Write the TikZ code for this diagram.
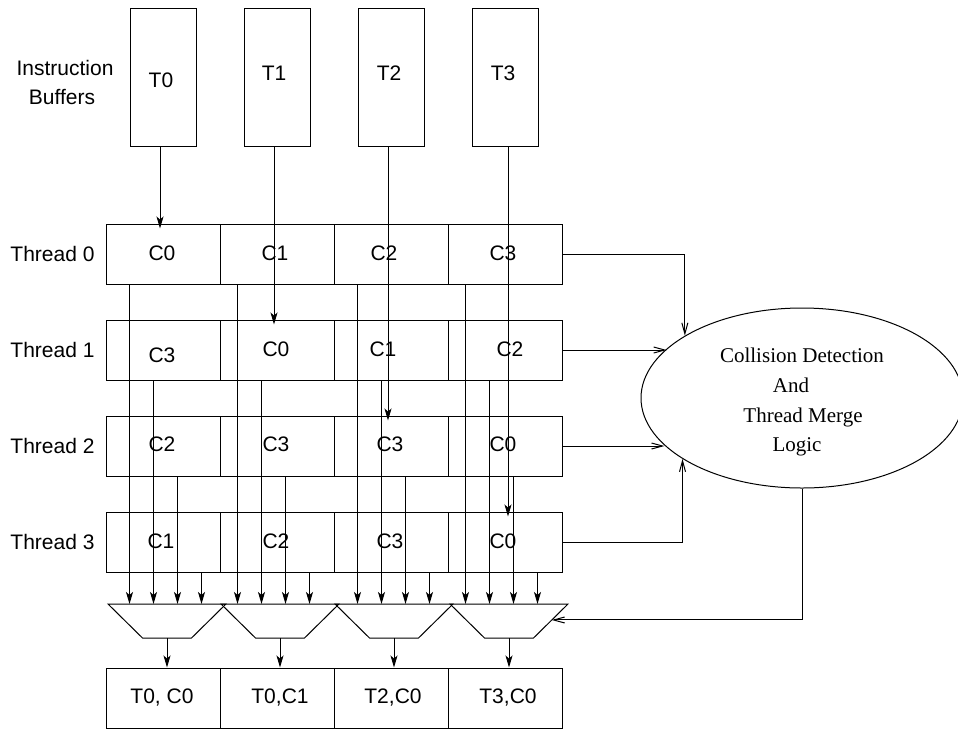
\documentclass[tikz,border=0pt]{standalone}
\usepackage{fontspec}
\setmainfont{Liberation Sans}
\newfontfamily\serifx{Liberation Serif}
\usetikzlibrary{arrows.meta,calc,shapes.geometric}
\begin{document}
\begin{tikzpicture}[x=1pt,y=-1pt,line width=1pt,
 box/.style={draw,rectangle,minimum width=114pt,minimum height=60pt,inner sep=0pt},
 buf/.style={draw,rectangle,minimum width=66pt,minimum height=138pt,inner sep=0pt},
 txt/.style={inner sep=0pt,text height=15pt,text depth=0pt,font=\fontsize{21}{25}\selectfont},
 stxt/.style={inner sep=0pt,text height=14pt,text depth=0pt,font=\serifx\fontsize{21}{25}\selectfont},
 arr/.style={-{Stealth[length=12pt,width=7pt,inset=3pt]}},
 oarr/.style={-{Straight Barb[length=11pt,width=6pt]}}]
\useasboundingbox (0,0) rectangle (958,729);

% instruction buffers
\node[txt] (ib1) at (65,68) {Instruction};
\node[txt] (ib2) at (62,97) {Buffers};
\node[buf] (b0) at (163,77) {};
\node[buf] (b1) at (277,77) {};
\node[buf] (b2) at (391,77) {};
\node[buf] (b3) at (505,77) {};
\node[txt] (b0t) at (161,79.5) {T0};
\node[txt] (b1t) at (274,72.5) {T1};
\node[txt] (b2t) at (389,72.5) {T2};
\node[txt] (b3t) at (503,72.5) {T3};

% thread rows
\foreach \r in {0,...,3}{
  \node[txt,anchor=east] (th\r) at (95,{254+96*\r}) {Thread \r};
  \foreach \c in {0,...,3}{
    \node[box] (c\r\c) at ({163+114*\c},{254+96*\r}) {};
  }
}
% cell texts
\node[txt] (t00) at (162,253) {C0};
\node[txt] (t01) at (275,253) {C1};
\node[txt] (t02) at (384,253) {C2};
\node[txt] (t03) at (503,253) {C3};
\node[txt] (t10) at (162,355) {C3};
\node[txt] (t11) at (276,349) {C0};
\node[txt] (t12) at (383,349) {C1};
\node[txt] (t13) at (510,349) {C2};
\node[txt] (t20) at (162,444) {C2};
\node[txt] (t21) at (276,444) {C3};
\node[txt] (t22) at (390,444) {C3};
\node[txt] (t23) at (503,444) {C0};
\node[txt] (t30) at (161,541) {C1};
\node[txt] (t31) at (276,541) {C2};
\node[txt] (t32) at (390,541) {C3};
\node[txt] (t33) at (503,541) {C0};

% multiplexers
\foreach \c/\mx in {0/167,1/280,2/394,3/509}{
  \coordinate (mt\c) at (\mx,604);
  \coordinate (mb\c) at (\mx,638);
  \coordinate (mtl\c) at (\mx-59,604);
  \coordinate (mtr\c) at (\mx+59,604);
  \coordinate (mbr\c) at (\mx+24.5,638);
  \coordinate (mbl\c) at (\mx-24.5,638);
  \draw (mtl\c) -- (mtr\c) -- (mbr\c) -- (mbl\c) -- cycle;
}

% lines from cells to multiplexers
\foreach \c/\oc in {0/24,1/18,2/24,3/18}{
  \foreach \r in {0,...,3}{
    \pgfmathsetmacro\o{\oc+24*\r}
    \coordinate (s\r\c) at ([xshift=\o pt]c\r\c.south west);
    \draw[arr] (s\r\c) -- (s\r\c |- mt\c);
  }
}

% lines from instruction buffers
\coordinate (bs0) at ([xshift=-3pt]b0.south);
\coordinate (bs1) at ([xshift=-3pt]b1.south);
\coordinate (bs2) at ([xshift=-3pt]b2.south);
\coordinate (bs3) at ([xshift=3pt]b3.south);
\draw[arr,shorten >=-5pt] (bs0) -- (bs0 |- c00.north);
\draw[arr,shorten >=-5pt] (bs1) -- (bs1 |- c11.north);
\draw[arr,shorten >=-5pt] (bs2) -- (bs2 |- c22.north);
\draw[arr,shorten >=-5pt] (bs3) -- (bs3 |- c33.north);

% output register
\foreach \c in {0,...,3}{
  \node[box] (o\c) at ({163+114*\c},698) {};
  \draw[arr] (mb\c) -- (mb\c |- o\c.north);
}
\node[txt] (ot0) at (162,696) {T0, C0};
\node[txt] (ot1) at (280,696) {T0,C1};
\node[txt] (ot2) at (393,696) {T2,C0};
\node[txt] (ot3) at (508,696) {T3,C0};

% collision detection logic
\node[draw,ellipse,minimum width=322pt,minimum height=180pt,inner sep=0pt] (e) at (802,398) {};
\node[stxt] (et1) at (802,355) {Collision Detection};
\node[stxt] (et2) at (791,385) {And};
\node[stxt] (et3) at (803,415) {Thread Merge};
\node[stxt] (et4) at (797,444) {Logic};

\draw[oarr] (c03.east) -| (e.152.9);
\draw[oarr] (c13.east) -- (c13.east -| e.160.1);
\draw[oarr] (c23.east) -- (c23.east -| e.199.4);
\draw[oarr] (c33.east) -| (e.207.1);
\coordinate (m3r) at ($(mtr3)!0.47!(mbr3)$);
\draw[oarr] (e.south) |- (m3r);
\end{tikzpicture}
\end{document}
